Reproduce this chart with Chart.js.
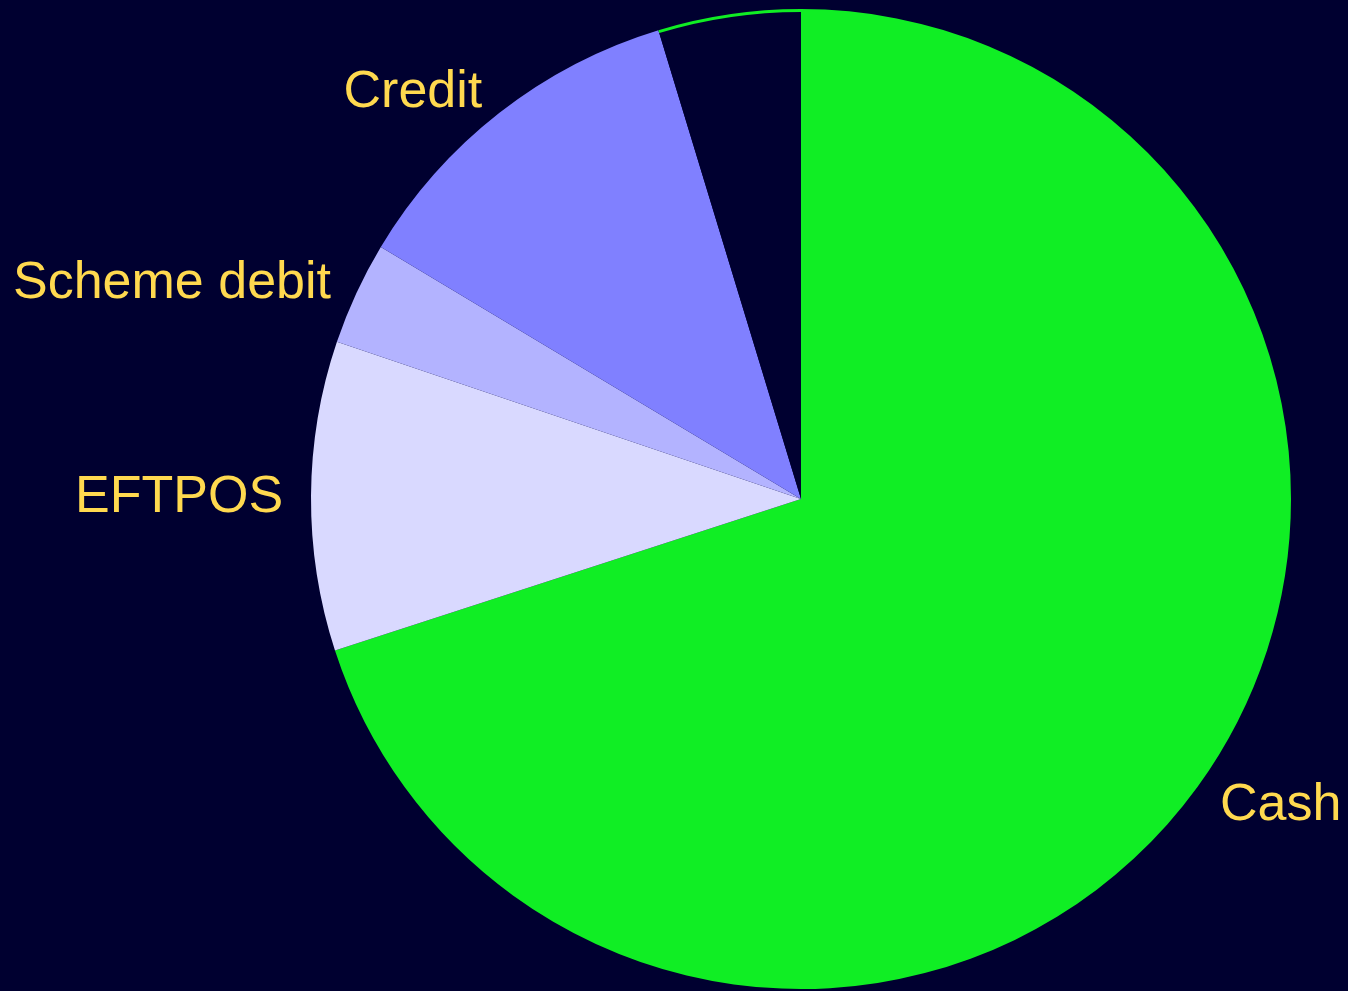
<!DOCTYPE html>
<html>
<head>
<meta charset="utf-8">
<script src="https://cdn.jsdelivr.net/npm/chart.js@4"></script>
<style>
  html, body { margin: 0; padding: 0; background: #000030; }
  #wrap { width: 1348px; height: 991px; }
</style>
</head>
<body>
<div id="wrap"><canvas id="myChart"></canvas></div>
<script>
'use strict';

// payment methods, clockwise from 12 o'clock
let labels = ['Cash', 'EFTPOS', 'Scheme debit', 'Credit', ''];
let shares = [70.0, 10.2, 3.4, 11.7, 4.7];
let colours = ['#10EE24', '#D9D9FF', '#B3B3FF', '#8080FF', '#000030'];

let bgColour = '#000030';
let labelColour = '#FFD94F';

// labels outside the pie, on the middle of each slice
let outsideLabels = {
    id: 'outsideLabels',
    afterDatasetsDraw(chart) {
        let ctx = chart.ctx;
        let arcs = chart.getDatasetMeta(0).data;
        ctx.save();
        ctx.font = '52px "Liberation Sans", Arial, sans-serif';
        ctx.fillStyle = labelColour;
        ctx.textBaseline = 'middle';
        arcs.forEach(function (arc, i) {
            if (!labels[i]) return;
            let mid = (arc.startAngle + arc.endAngle) / 2;
            let r = arc.outerRadius * 1.057;
            let x = arc.x + Math.cos(mid) * r;
            let y = arc.y + Math.sin(mid) * r;
            ctx.textAlign = Math.cos(mid) < 0 ? 'right' : 'left';
            ctx.fillText(labels[i], x, y + 2);
        });

        // green rim on the last (dark) slice
        let last = arcs[arcs.length - 1];
        ctx.strokeStyle = colours[0];
        ctx.lineWidth = 3;
        ctx.beginPath();
        ctx.arc(last.x, last.y, last.outerRadius - 1.5, last.startAngle, last.endAngle);
        ctx.stroke();
        ctx.restore();
    }
};

let ctx = document.getElementById('myChart').getContext('2d');
let myChart = new Chart(ctx, {
    type: 'pie',
    data: {
        labels: labels,
        datasets: [{
            data: shares,
            backgroundColor: colours,
            borderWidth: 0
        }]
    },
    options: {
        responsive: true,
        maintainAspectRatio: false,
        animation: false,
        layout: {
            padding: { left: 311, right: 57, top: 9, bottom: 2 }
        },
        plugins: {
            legend: { display: false },
            tooltip: { enabled: false }
        }
    },
    plugins: [outsideLabels]
});
</script>
</body>
</html>
